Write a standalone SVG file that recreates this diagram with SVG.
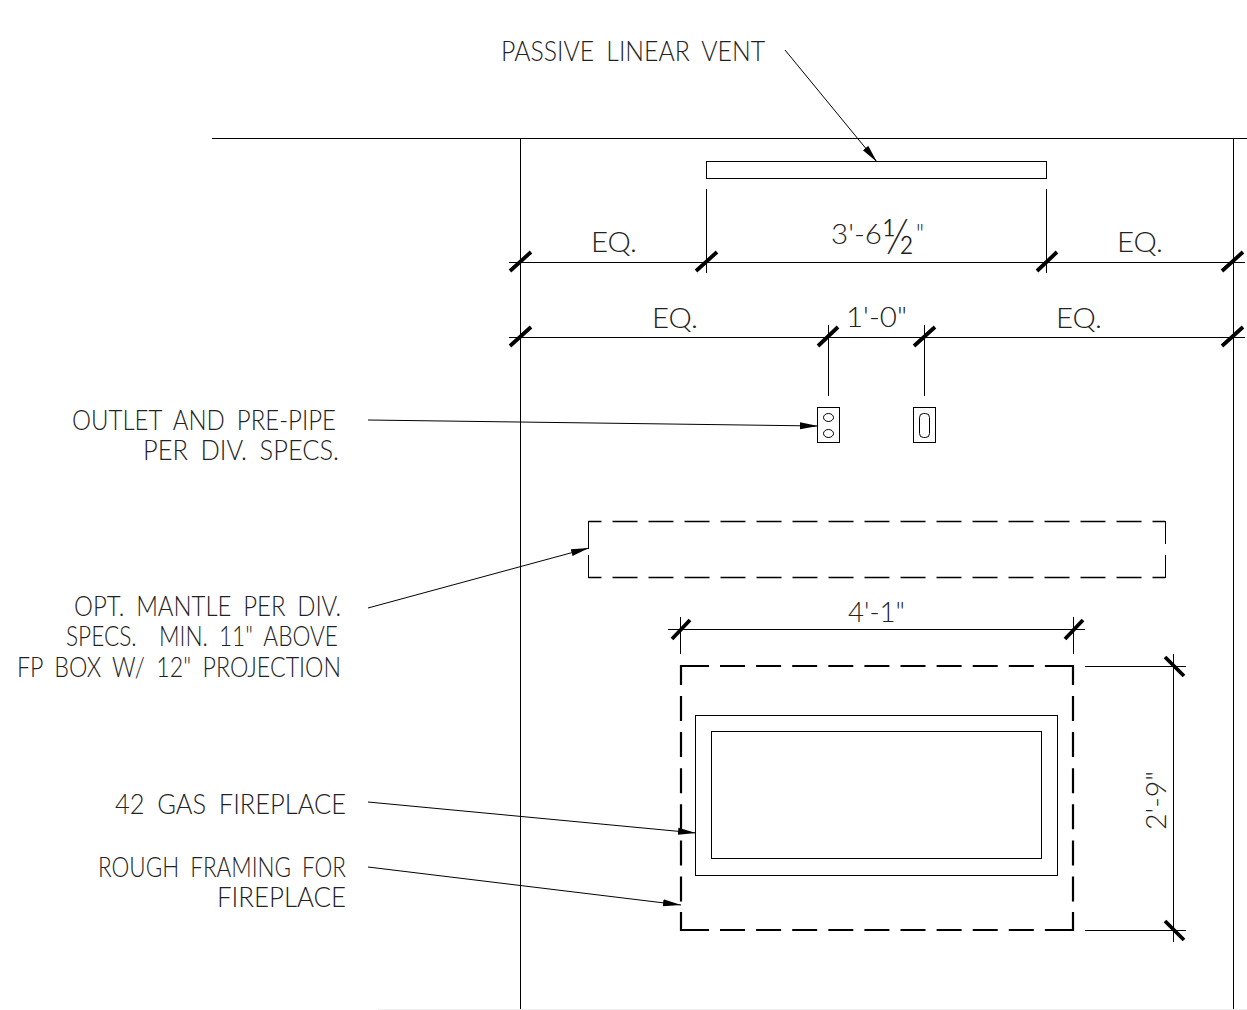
<svg xmlns="http://www.w3.org/2000/svg" width="1247" height="1010" viewBox="0 0 1247 1010">
<style>
text{font-family:"Lato","Liberation Sans",sans-serif;font-weight:300;font-size:27px;fill:#222;word-spacing:6px}
.l{fill:none;stroke:#000;stroke-width:1}
.t{stroke:#000;stroke-width:3.8;fill:none}
.d{fill:none;stroke:#000;stroke-width:1.3;stroke-dasharray:25 11}
.h{fill:none;stroke:#000;stroke-width:2.2}
.hd{stroke-dasharray:25 11.1}
</style>
<defs>
<marker id="a" markerUnits="userSpaceOnUse" markerWidth="20" markerHeight="10" refX="18" refY="4" orient="auto"><path d="M0 0.5L18 4L0 7.5Z" fill="#000"/></marker>
</defs>
<rect width="1247" height="1010" fill="#fff"/>
<g id="walls">
<path class="l" d="M212 138.500H1247M520.500 138V1010M1233.500 138V1010"/>
<path d="M378 1009.500H1247" fill="none" stroke="#eee"/>
</g>
<g id="vent"><rect class="l" x="706.500" y="161.500" width="340" height="17"/></g>
<g id="outlet"><rect class="l" x="817.500" y="407.500" width="22" height="35"/><ellipse class="l" cx="828.500" cy="417.500" rx="5" ry="4"/><ellipse class="l" cx="828.500" cy="433.500" rx="5" ry="4"/></g>
<g id="switch"><rect class="l" x="913.500" y="407.500" width="22" height="35"/><rect class="l" x="919.500" y="413.500" width="10" height="24" rx="4"/></g>
<g id="mantle">
<path class="d" stroke-dashoffset="12" d="M588.500 521.500H1165"/>
<path class="d" stroke-dashoffset="12" d="M588.500 577.500H1165"/>
<path class="l" d="M588.500 521V549M588.500 555V578M1165.500 521V544M1165.500 555V578" stroke-width="1.300"/>
</g>
<g id="rough-framing">
<path class="h" d="M681 685V666H709M1045 666H1073V685"/>
<path class="h" d="M681 912V930H709M1045 930H1073V912"/>
<path class="h hd" d="M720 666H1045M720 930H1045"/>
<path class="h hd" d="M681 696V902M1073 696V902"/>
</g>
<g id="fireplace"><rect class="l" x="695.500" y="715.500" width="362" height="160"/><rect class="l" x="711.500" y="731.500" width="330" height="127"/></g>
<g id="connectors">
<path class="l" d="M785 50L877 162" marker-end="url(#a)"/>
<path class="l" d="M368 420L818 426" marker-end="url(#a)"/>
<path class="l" d="M368 608L589 548" marker-end="url(#a)"/>
<path class="l" d="M368 802L696 833" marker-end="url(#a)"/>
<path class="l" d="M368 867L681 905" marker-end="url(#a)"/>
</g>
<g id="dimensions">
<path class="l" d="M509 262.500H1245M509 337.500H1245M706.500 189V273M1046.500 189V273M828.500 325V396M924.500 325V396"/>
<path class="l" d="M668 629.500H1085M680.500 617V654M1073.500 617V654M1173.500 654V942M1085 666.500H1186M1085 930.500H1186"/>
<path class="t" d="M510 271L531 252M696 271L717 252M1037 271L1057 252M1222 271L1243 252M510 346L531 327M818 346L838 327M914 346L935 327M1222 346L1243 327M672 639L690 620M1065 639L1083 620M1165 657L1184 676M1165 921L1184 940"/>
</g>
<g id="labels">
<text x="501" y="61" textLength="264" lengthAdjust="spacingAndGlyphs">PASSIVE LINEAR VENT</text>
<text x="72" y="429.500" textLength="264" lengthAdjust="spacingAndGlyphs">OUTLET AND PRE-PIPE</text>
<text x="143" y="459.500" textLength="196" lengthAdjust="spacingAndGlyphs">PER DIV. SPECS.</text>
<text x="74" y="616" textLength="267" lengthAdjust="spacingAndGlyphs">OPT. MANTLE PER DIV.</text>
<text x="66" y="646" textLength="272" lengthAdjust="spacingAndGlyphs" xml:space="preserve">SPECS.  MIN. 11" ABOVE</text>
<text x="17" y="677" textLength="324" lengthAdjust="spacingAndGlyphs">FP BOX W/ 12" PROJECTION</text>
<text x="115" y="814" textLength="231" lengthAdjust="spacingAndGlyphs">42 GAS FIREPLACE</text>
<text x="98" y="877" textLength="248" lengthAdjust="spacingAndGlyphs">ROUGH FRAMING FOR</text>
<text x="217" y="907" textLength="129" lengthAdjust="spacingAndGlyphs">FIREPLACE</text>
<text x="591" y="252" textLength="46" lengthAdjust="spacingAndGlyphs">EQ.</text>
<text x="1117" y="252" textLength="46" lengthAdjust="spacingAndGlyphs">EQ.</text>
<text x="652" y="328" textLength="46" lengthAdjust="spacingAndGlyphs">EQ.</text>
<text x="1056" y="328" textLength="46" lengthAdjust="spacingAndGlyphs">EQ.</text>
<text><tspan x="831" y="244" textLength="51" lengthAdjust="spacingAndGlyphs">3'-6</tspan><tspan x="882" y="254" font-size="50" textLength="32" lengthAdjust="spacingAndGlyphs">½</tspan><tspan x="916" y="244" textLength="8" lengthAdjust="spacingAndGlyphs">"</tspan></text>
<text x="846" y="327" textLength="61" lengthAdjust="spacingAndGlyphs">1'-0"</text>
<text x="848" y="622" textLength="57" lengthAdjust="spacingAndGlyphs">4'-1"</text>
<text transform="translate(1166 830) rotate(-90)" textLength="59" lengthAdjust="spacingAndGlyphs">2'-9"</text>
</g>
</svg>
